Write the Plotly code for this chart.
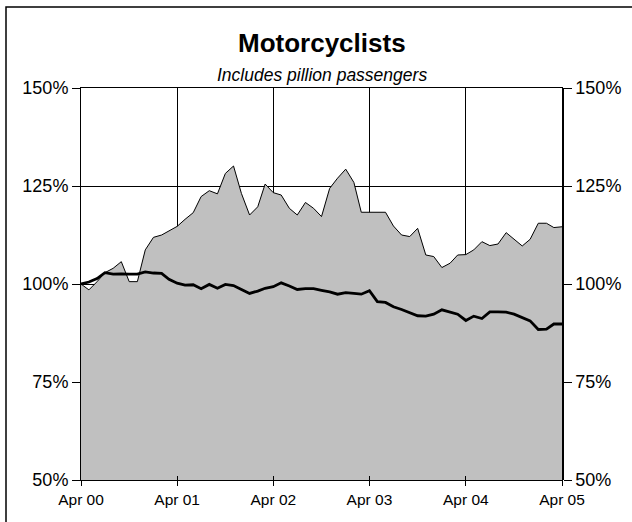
import pandas as pd
import plotly.graph_objects as go

# Monthly dates Apr 2000 .. Apr 2005
months = pd.date_range("2000-04-01", periods=61, freq="MS")

# Grey area series (%)
area_values = [
    100.0, 98.5, 100.6, 102.9, 104.0, 105.7, 100.6, 100.6, 108.7, 111.9,
    112.5, 113.6, 114.7, 116.5, 118.2, 122.3, 123.8, 123.0, 128.2, 130.1,
    123.1, 117.6, 119.7, 125.5, 123.3, 122.7, 119.3, 117.6, 120.8, 119.3,
    117.2, 124.4, 127.0, 129.3, 125.9, 118.3, 118.3, 118.3, 118.3, 114.8,
    112.5, 112.1, 114.2, 107.4, 107.0, 104.2, 105.3, 107.4, 107.5, 108.7,
    110.8, 109.8, 110.2, 113.1, 111.5, 109.7, 111.4, 115.5, 115.5, 114.4,
    114.6,
]

# Black line series (%)
line_values = [
    100.0, 100.5, 101.4, 102.9, 102.5, 102.6, 102.5, 102.5, 103.1, 102.8,
    102.7, 101.2, 100.2, 99.7, 99.8, 98.8, 99.9, 98.9, 99.9, 99.6,
    98.6, 97.6, 98.2, 98.9, 99.3, 100.3, 99.5, 98.6, 98.8, 98.8,
    98.4, 98.0, 97.4, 97.8, 97.6, 97.4, 98.3, 95.5, 95.3, 94.2,
    93.5, 92.7, 91.9, 91.8, 92.3, 93.4, 92.8, 92.3, 90.7, 91.8,
    91.2, 92.9, 92.9, 92.8, 92.3, 91.5, 90.6, 88.4, 88.5, 89.8,
    89.8,
]

x_tick_dates = ["2000-04-01", "2001-04-01", "2002-04-01", "2003-04-01", "2004-04-01", "2005-04-01"]
x_tick_labels = ["Apr 00", "Apr 01", "Apr 02", "Apr 03", "Apr 04", "Apr 05"]
y_tick_values = [50, 75, 100, 125, 150]
y_tick_labels = ["50%", "75%", "100%", "125%", "150%"]

title_text = "Motorcyclists"
subtitle_text = "Includes pillion passengers"

FONT = "Arial, Liberation Sans, sans-serif"

fig = go.Figure()
fig.add_trace(go.Scatter(
    x=months, y=area_values, mode="lines",
    line=dict(color="black", width=1),
    fill="tozeroy", fillcolor="#C0C0C0",
    hoverinfo="skip", showlegend=False,
))
fig.add_trace(go.Scatter(
    x=months, y=line_values, mode="lines",
    line=dict(color="black", width=2.8),
    xaxis="x2", yaxis="y2",
    hoverinfo="skip", showlegend=False,
))

xr = [x_tick_dates[0], x_tick_dates[-1]]
yr = [50, 150]

fig.update_layout(
    width=632, height=522,
    margin=dict(l=81, r=70, t=88, b=42),
    paper_bgcolor="white", plot_bgcolor="white",
    font=dict(family=FONT, color="black"),
    showlegend=False,
    xaxis=dict(
        type="date", range=xr,
        tickvals=x_tick_dates, ticktext=x_tick_labels,
        ticks="outside", ticklen=5, tickcolor="black", tickwidth=1,
        showgrid=True, gridcolor="black", gridwidth=1,
        showline=True, linecolor="black", linewidth=1, mirror=True,
        tickfont=dict(size=15.5, family=FONT),
        zeroline=False,
    ),
    yaxis=dict(
        range=yr,
        tickvals=y_tick_values, ticktext=y_tick_labels,
        ticks="outside", ticklen=8, tickcolor="black", tickwidth=1,
        showgrid=True, gridcolor="black", gridwidth=1,
        showline=True, linecolor="black", linewidth=1, mirror=True,
        tickfont=dict(size=18, family=FONT),
        zeroline=False,
    ),
    xaxis2=dict(
        type="date", range=xr, overlaying="x", side="bottom",
        tickvals=x_tick_dates, ticktext=x_tick_labels,
        ticks="inside", ticklen=4, tickcolor="black", tickwidth=1,
        showticklabels=False, showgrid=False, showline=False, zeroline=False,
    ),
    yaxis2=dict(
        range=yr, overlaying="y", side="right",
        tickvals=y_tick_values, ticktext=y_tick_labels,
        ticks="outside", ticklen=8, tickcolor="black", tickwidth=1,
        showgrid=False, showline=True, linecolor="black", linewidth=1.5,
        tickfont=dict(size=18, family=FONT),
        zeroline=False,
    ),
    annotations=[
        dict(text="<b>" + title_text + "</b>", xref="paper", yref="paper",
             x=0.5, y=1.1148, xanchor="center", yanchor="middle",
             showarrow=False, font=dict(size=26, family=FONT, color="black")),
        dict(text="<i>" + subtitle_text + "</i>", xref="paper", yref="paper",
             x=0.5, y=1.0332, xanchor="center", yanchor="middle",
             showarrow=False, font=dict(size=17.5, family=FONT, color="black")),
    ],
    shapes=[
        dict(type="rect", xref="paper", yref="paper",
             x0=(6 - 81) / 481, x1=(660 - 81) / 481,
             y0=(480 - 540) / 392, y1=(480 - 7) / 392,
             line=dict(color="black", width=1.5), fillcolor="rgba(0,0,0,0)",
             layer="below"),
    ],
)

fig.write_html(
    "out.html",
    config={"displayModeBar": False},
    post_script="document.body.style.margin='0px';document.body.style.overflow='hidden';",
)
